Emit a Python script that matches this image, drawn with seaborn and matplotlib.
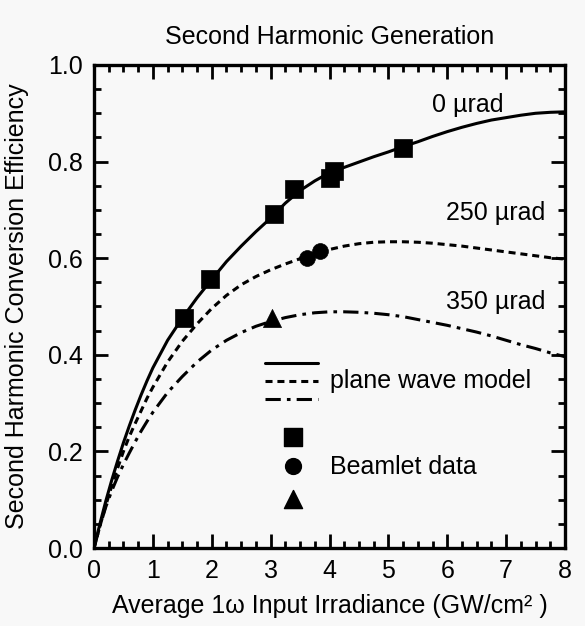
import numpy as np
import pandas as pd
import matplotlib
matplotlib.use("Agg")
import matplotlib.pyplot as plt
import seaborn as sns
from matplotlib.ticker import MultipleLocator

# ---- data ----
x_0urad = [0.0, 0.1, 0.2, 0.3, 0.4, 0.5, 0.6, 0.7, 0.8, 0.9, 1.0, 1.25, 1.5, 1.75, 2.0, 2.25, 2.5, 2.75,
           3.0, 3.25, 3.5, 3.75, 4.0, 4.25, 4.5, 4.75, 5.0, 5.25, 5.5, 5.75, 6.0, 6.25, 6.5, 6.75, 7.0,
           7.25, 7.5, 7.75, 8.0]
y_0urad = [0.0, 0.05, 0.097, 0.14, 0.18, 0.218, 0.253, 0.286, 0.317, 0.346, 0.373, 0.43, 0.476, 0.518,
           0.556, 0.593, 0.625, 0.655, 0.683, 0.714, 0.74, 0.76, 0.777, 0.788, 0.799, 0.81, 0.82, 0.831,
           0.841, 0.852, 0.862, 0.871, 0.879, 0.886, 0.891, 0.896, 0.9, 0.902, 0.903]

x_250urad = [0.0, 0.1, 0.2, 0.3, 0.4, 0.5, 0.6, 0.7, 0.8, 0.9, 1.0, 1.25, 1.5, 1.75, 2.0, 2.25, 2.5, 2.75,
             3.0, 3.25, 3.5, 3.75, 4.0, 4.25, 4.5, 4.75, 5.0, 5.25, 5.5, 5.75, 6.0, 6.25, 6.5, 6.75, 7.0,
             7.25, 7.5, 7.75, 8.0]
y_250urad = [0.0, 0.045, 0.088, 0.128, 0.165, 0.2, 0.231, 0.258, 0.284, 0.31, 0.333, 0.385, 0.428, 0.464,
             0.496, 0.523, 0.545, 0.562, 0.576, 0.588, 0.599, 0.609, 0.618, 0.625, 0.63, 0.633, 0.634,
             0.634, 0.633, 0.631, 0.628, 0.625, 0.621, 0.617, 0.613, 0.609, 0.605, 0.601, 0.598]

x_350urad = [0.0, 0.1, 0.2, 0.3, 0.4, 0.5, 0.6, 0.7, 0.8, 0.9, 1.0, 1.25, 1.5, 1.75, 2.0, 2.25, 2.5, 2.75,
             3.0, 3.25, 3.5, 3.75, 4.0, 4.25, 4.5, 4.75, 5.0, 5.25, 5.5, 5.75, 6.0, 6.25, 6.5, 6.75, 7.0,
             7.25, 7.5, 7.75, 8.0]
y_350urad = [0.0, 0.045, 0.085, 0.118, 0.147, 0.173, 0.197, 0.22, 0.242, 0.262, 0.281, 0.322, 0.355,
             0.385, 0.41, 0.43, 0.446, 0.459, 0.469, 0.477, 0.483, 0.487, 0.489, 0.489, 0.488, 0.486,
             0.483, 0.479, 0.473, 0.467, 0.461, 0.454, 0.447, 0.439, 0.43, 0.421, 0.413, 0.404, 0.396]

sq_x = [1.53, 1.97, 3.05, 3.40, 4.01, 4.08, 5.25]
sq_y = [0.476, 0.557, 0.692, 0.743, 0.765, 0.781, 0.829]
ci_x = [3.61, 3.84]
ci_y = [0.600, 0.615]
tr_x = [3.02]
tr_y = [0.476]

curve_labels = ["0 µrad", "250 µrad", "350 µrad"]
curve_label_x = [6.35, 6.82, 6.82]
curve_label_y = [0.917, 0.694, 0.51]

x_ticks = [0, 1, 2, 3, 4, 5, 6, 7, 8]
y_ticks = [0.0, 0.2, 0.4, 0.6, 0.8, 1.0]
y_tick_labels = ["0.0", "0.2", "0.4", "0.6", "0.8", "1.0"]

title = "Second Harmonic Generation"
xlabel = "Average 1ω Input Irradiance (GW/cm² )"
ylabel = "Second Harmonic Conversion Efficiency"

# ---- style ----
sns.set_style("ticks")
plt.rcParams["font.family"] = ["Liberation Sans", "DejaVu Sans"]
for k in ["text.color", "axes.labelcolor", "xtick.color", "ytick.color", "axes.edgecolor"]:
    plt.rcParams[k] = "black"
FS = 18

bg = "#f8f8f8"
fig = plt.figure(figsize=(5.85, 6.26), dpi=100, facecolor=bg)
ax = fig.add_axes([0.1607, 0.1246, 0.8051, 0.7716])
ax.set_facecolor(bg)

DOT = (2.3, 1.6)
DASHDOT = (5.0, 2.0, 1.2, 2.0)
LW = 2.2

curves = pd.DataFrame({
    "x": x_0urad + x_250urad + x_350urad,
    "y": y_0urad + y_250urad + y_350urad,
    "c": ["0"] * len(x_0urad) + ["250"] * len(x_250urad) + ["350"] * len(x_350urad),
})
styles = {"0": None, "250": DOT, "350": DASHDOT}
for key in ["0", "250", "350"]:
    d = curves[curves["c"] == key]
    sns.lineplot(data=d, x="x", y="y", ax=ax, color="black", lw=LW,
                 sort=False, estimator=None, legend=False)
    line = ax.lines[-1]
    line.set_solid_joinstyle("round")
    line.set_dash_joinstyle("round")
    if styles[key] is not None:
        line.set_dashes(styles[key])

sns.scatterplot(x=sq_x, y=sq_y, ax=ax, marker="s", s=170, color="black", edgecolor="black", linewidth=0.5, zorder=5)
sns.scatterplot(x=ci_x, y=ci_y, ax=ax, marker="o", s=130, color="black", edgecolor="black", linewidth=0.5, zorder=5)
sns.scatterplot(x=tr_x, y=tr_y, ax=ax, marker="^", s=170, color="black", edgecolor="black", linewidth=0.5, zorder=5)

for t, lx, ly in zip(curve_labels, curve_label_x, curve_label_y):
    ax.text(lx, ly, t, ha="center", va="center", fontsize=FS, color="black")

# custom legend (axes coordinates)
tr = ax.transAxes
ax.plot([0.363, 0.476], [0.383, 0.383], color="black", lw=LW, transform=tr)
l2, = ax.plot([0.363, 0.476], [0.346, 0.346], color="black", lw=LW, transform=tr)
l2.set_dashes(DOT)
l3, = ax.plot([0.363, 0.476], [0.308, 0.308], color="black", lw=LW, transform=tr)
l3.set_dashes(DASHDOT)
ax.text(0.50, 0.346, "plane wave model", transform=tr, ha="left", va="center", fontsize=FS, color="black")
ax.scatter([0.422], [0.230], marker="s", s=170, color="black", transform=tr, zorder=5)
ax.scatter([0.422], [0.170], marker="o", s=130, color="black", transform=tr, zorder=5)
ax.scatter([0.422], [0.101], marker="^", s=170, color="black", transform=tr, zorder=5)
ax.text(0.50, 0.168, "Beamlet data", transform=tr, ha="left", va="center", fontsize=FS, color="black")

ax.set_xlim(0, 8)
ax.set_ylim(0, 1.0)
ax.set_xticks(x_ticks)
ax.set_xticklabels([str(v) for v in x_ticks])
ax.set_yticks(y_ticks)
ax.set_yticklabels(y_tick_labels)
ax.xaxis.set_minor_locator(MultipleLocator(0.25))
ax.yaxis.set_minor_locator(MultipleLocator(0.05))
ax.tick_params(which="both", direction="in", top=True, right=True, width=2, color="black",
               labelcolor="black", labelsize=FS)
ax.tick_params(which="major", length=10, pad=8)
ax.tick_params(which="minor", length=5)
for s in ax.spines.values():
    s.set_linewidth(2.4)
    s.set_color("black")

ax.set_title(title, fontsize=FS, pad=15, color="black")
ax.set_xlabel(xlabel, fontsize=FS, labelpad=8, color="black")
ax.set_ylabel(ylabel, fontsize=FS, labelpad=14, color="black")

fig.savefig("out.png", dpi=100, facecolor=bg)
